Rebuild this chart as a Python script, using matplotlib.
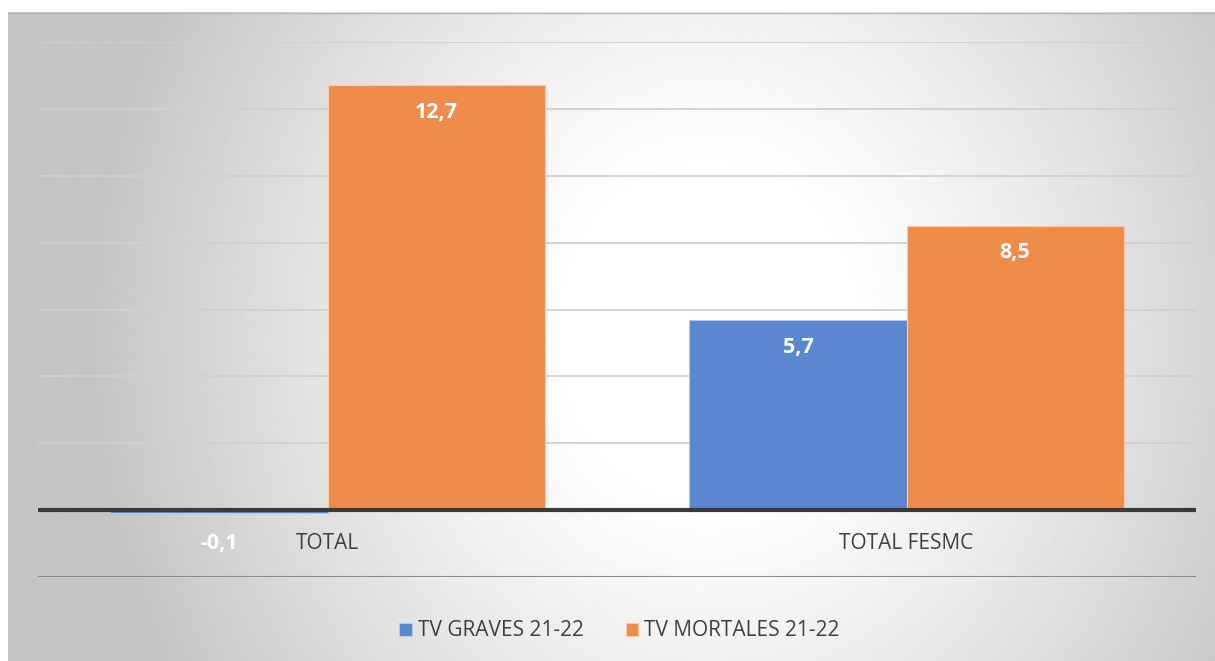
import matplotlib.pyplot as plt
import numpy as np

categories = ['TOTAL', 'TOTAL FESMC']
series = ['TV GRAVES 21-22', 'TV MORTALES 21-22']
graves = [-0.1, 5.7]
mortales = [12.7, 8.5]
labels_graves = ['-0,1', '5,7']
labels_mortales = ['12,7', '8,5']

plt.rcParams['font.family'] = ['Open Sans', 'DejaVu Sans']

W, H = 1215, 661
fig = plt.figure(figsize=(W / 100, H / 100), dpi=100)
fig.patch.set_facecolor('white')

# radial gradient background (chart area frame)
bg = fig.add_axes([8 / W, 0, 1 - 8 / W, 1 - 12 / H])
bg.set_axis_off()
yy, xx = np.mgrid[0:649, 0:1207]
cx, cy = 700, 320
r = np.sqrt(((xx - cx) / 620) ** 2 + ((yy - cy) / 700) ** 2)
shade = 1 - 0.23 * np.clip((r - 0.22) / 0.78, 0, 1) ** 1.2
bg.imshow(shade, cmap='gray', vmin=0, vmax=1, aspect='auto', interpolation='bilinear')
bg.plot([0, 1206], [0.5, 0.5], color='#b8b8b8', lw=1)
bg.set_xlim(0, 1206)
bg.set_ylim(648, 0)

ax = fig.add_axes([38 / W, 1 - 577 / H, (1196 - 38) / W, (577 - 42) / H])
ax.patch.set_alpha(0)

x = np.arange(len(categories))
w = 0.375
b1 = ax.bar(x - w / 2, graves, w, color='#5B86D0', edgecolor='#b3c8ee', linewidth=0.8, label=series[0], zorder=3)
b2 = ax.bar(x + w / 2, mortales, w, color='#EE8C4B', edgecolor='#f8cba9', linewidth=0.8, label=series[1], zorder=3)

ax.set_xlim(-0.5, 1.5)
ax.set_ylim(-2, 14)
ax.set_yticks(np.arange(-2, 15, 2))
ax.set_yticklabels([])
ax.tick_params(left=False, bottom=False, labelbottom=False)
for s in ax.spines.values():
    s.set_visible(False)

for v in range(2, 15, 2):
    ax.axhline(v, color='#d0d0d0', lw=1.3, zorder=1)
ax.axhline(-2, color='#8a8a8a', lw=1.5, zorder=1)
ax.axhline(0, color='#3a3a3a', lw=3, zorder=4)

for i, c in enumerate(categories):
    ax.text(x[i], -1.0, c, ha='center', va='center', fontsize=15, color='#404040')

for i in range(len(categories)):
    if graves[i] >= 0:
        ax.text(x[i] - w / 2, graves[i] - 0.85, labels_graves[i], ha='center', va='center',
                fontsize=15.5, fontweight='bold', color='white', zorder=5)
    else:
        ax.text(x[i] - w / 2, -1.0, labels_graves[i], ha='center', va='center',
                fontsize=15.5, fontweight='bold', color='white', zorder=5)
    ax.text(x[i] + w / 2, mortales[i] - 0.8, labels_mortales[i], ha='center', va='center',
            fontsize=15.5, fontweight='bold', color='white', zorder=5)

fig.legend(handles=[b1, b2], labels=series, loc='center', bbox_to_anchor=(0.51, 1 - 631 / H),
           ncol=2, frameon=False, fontsize=15, labelcolor='#404040',
           handlelength=0.6, handleheight=0.6, handletextpad=0.3, columnspacing=2.0)

fig.savefig('out.png', dpi=100)
